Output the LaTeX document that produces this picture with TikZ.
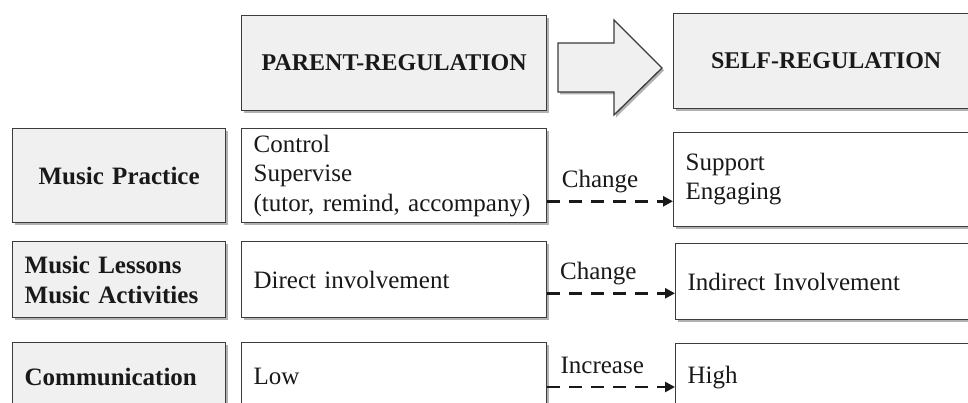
\documentclass[tikz,border=0pt]{standalone}
\usepackage{fontspec}
\setmainfont{Liberation Serif}
\definecolor{boxgray}{RGB}{240, 240, 240}
\definecolor{edgegray}{RGB}{60, 60, 60}
\definecolor{inkblack}{RGB}{25, 25, 25}
\usetikzlibrary{arrows.meta, positioning, calc, shadows}

\tikzset{
  box/.style={draw=edgegray, line width=1.3pt, anchor=north west, inner xsep=12pt, inner ysep=0pt,
    text=inkblack, drop shadow={shadow xshift=2pt, shadow yshift=-2.5pt, fill=black, opacity=0.3}},
  headbox/.style={box, fill=boxgray, minimum width=305pt, minimum height=95pt, align=center,
    font=\bfseries\fontsize{24}{28}\selectfont},
  rowbox/.style={box, fill=boxgray, text width=189pt, align=left,
    font=\bfseries\fontsize{25}{30}\selectfont},
  itembox/.style={box, fill=white, text width=281pt, align=left,
    font=\fontsize{25}{29.5}\selectfont},
  shiftarrow/.style={inkblack, line width=2.8pt, dash pattern=on 13pt off 9pt,
    -{Triangle[length=10pt, width=10pt]}},
  shiftlabel/.style={anchor=base, yshift=14pt, inner sep=0pt, text=inkblack,
    font=\fontsize{25}{29.5}\selectfont}
}

\begin{document}
\begin{tikzpicture}[x=1pt, y=-1pt]
  \useasboundingbox (0,0) rectangle (968,403);
  \fill[white] (0,0) rectangle (968,403);
  \clip (0,0) rectangle (968,403);

  % Headers
  \node[headbox] (parent) at (241,15) {PARENT-REGULATION};
  \node[headbox] (self) at (673,13) {SELF-REGULATION};

  % Big block arrow
  \draw[edgegray, line width=1.3pt, fill=boxgray, drop shadow={shadow xshift=2pt, shadow yshift=-2.5pt, fill=black, opacity=0.3}]
    (558,43) -- (614,43) -- (614,20) -- (662,68) -- (614,115) -- (614,92) -- (558,92) -- cycle;

  % Music practice
  \node[rowbox, align=center, minimum height=94pt] (practice) at (12,128) {Music Practice};
  \node[itembox, minimum height=94pt] (control) at (241,128) {Control\\Supervise\\(tutor, remind, accompany)};
  \node[itembox, minimum height=94pt] (support) at (673,132) {Support\\Engaging};

  % Lessons and activities
  \node[rowbox, minimum height=76pt] (lessons) at (12,241) {Music Lessons\\Music Activities};
  \node[itembox, minimum height=76pt] (direct) at (241,241) {Direct involvement};
  \node[itembox, minimum height=76pt] (indirect) at (675,243) {Indirect Involvement};

  % Communication
  \node[rowbox, minimum height=68pt] (communication) at (12,342) {Communication};
  \node[itembox, minimum height=68pt] (low) at (241,342) {Low};
  \node[itembox, minimum height=68pt] (high) at (675,343) {High};

  % Dashed arrows
  \coordinate (from1) at ($(control.south east)+(0,-22)$);
  \draw[shiftarrow] (from1) -- (from1 -| support.west) node[shiftlabel, pos=0.42] {Change};
  \coordinate (from2) at ($(direct.south east)+(0,-25)$);
  \draw[shiftarrow] (from2) -- (from2 -| indirect.west) node[shiftlabel, pos=0.40] {Change};
  \coordinate (from3) at ($(low.north east)+(0,45)$);
  \draw[shiftarrow] (from3) -- (from3 -| high.west) node[shiftlabel, pos=0.43] {Increase};
\end{tikzpicture}
\end{document}
